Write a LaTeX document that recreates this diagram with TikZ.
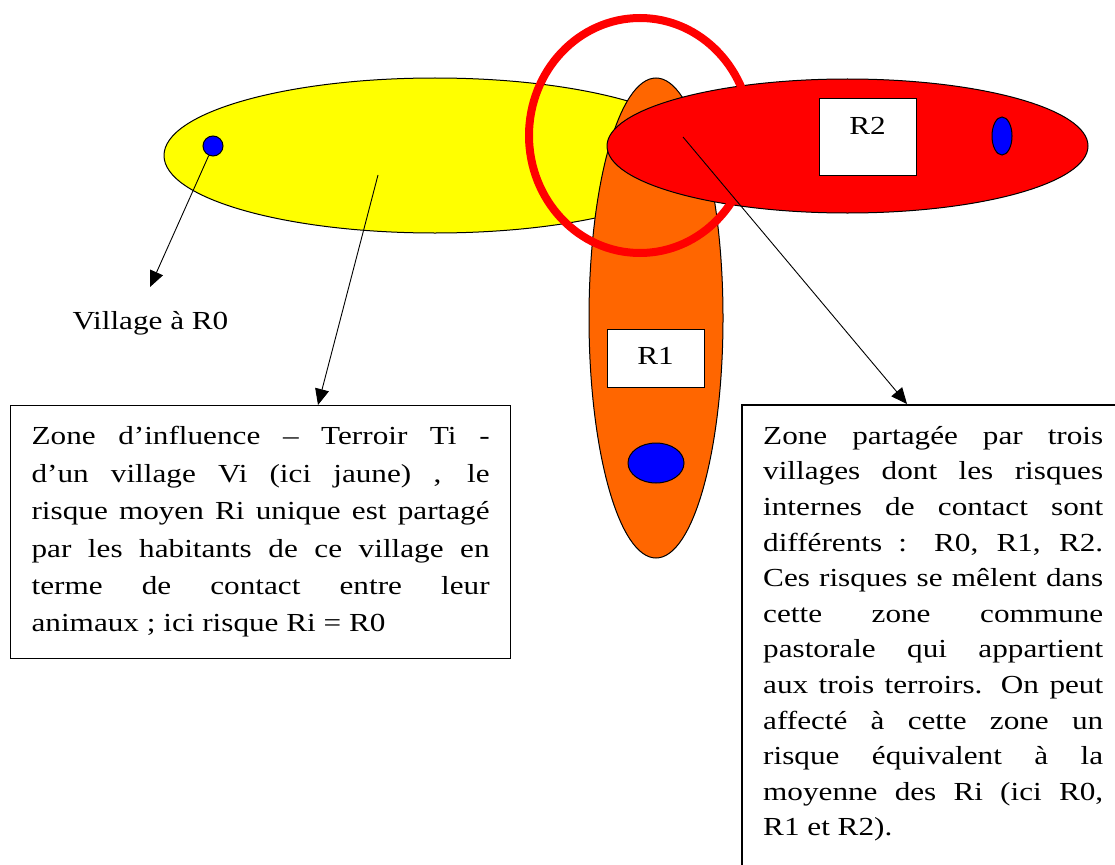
\documentclass[tikz,border=0pt]{standalone}
\usepackage{fontspec}
\setmainfont{Liberation Serif}[FakeStretch=1.2]
\usetikzlibrary{positioning,arrows.meta,shapes.geometric}
\definecolor{myyellow}{RGB}{255,255,0}
\definecolor{myorange}{RGB}{255,102,0}
\definecolor{myred}{RGB}{255,0,0}
\definecolor{myblue}{RGB}{0,0,255}
\tolerance=10000
\hbadness=10000

\begin{document}
\begin{tikzpicture}[x=1pt, y=-1pt, >={Triangle[length=16pt, width=14pt]},
    font=\fontsize{26}{37.4}\selectfont,
    zone/.style={ellipse, draw, line width=1pt, inner sep=0pt},
    village/.style={ellipse, draw, line width=1pt, fill=myblue, inner sep=0pt},
    riskbox/.style={draw, line width=1pt, fill=white, minimum width=97pt, inner sep=0pt},
    notebox/.style={anchor=north west, align=justify, inner xsep=21pt, inner ysep=21pt},
    boxline/.style={line width=1.2pt},
    link/.style={->, line width=0.9pt}]
  \useasboundingbox (0,0) rectangle (1115,864);
  % Terroirs
  \node[zone, fill=myyellow, minimum width=542pt, minimum height=155pt] (T0) at (435,155.5) {};
  \node[zone, fill=myorange, minimum width=134pt, minimum height=480pt] (T1) at (656,318) {};
  \node[zone, fill=myred, minimum width=481pt, minimum height=134pt] (T2) at (847.5,146) {};
  % Shared zone
  \node[ellipse, draw=myred, line width=8pt, minimum width=222pt, minimum height=235pt] (Tc) at (640,135.5) {};
  % Villages
  \node[village, minimum width=20pt, minimum height=20pt] (V0) at (213,146) {};
  \node[village, minimum width=56pt, minimum height=40pt] (V1) at (656,463) {};
  \node[village, minimum width=20pt, minimum height=38pt] (V2) at (1002,136) {};
  % Risk labels
  \node[riskbox, text height=35pt, text depth=23pt] (R1) at (655.5,358) {R1};
  \node[riskbox, text height=35pt, text depth=41pt] (R2) at (867.5,137) {R2};
  % Notes
  \node[anchor=base west] (L0) at (69,329) {Village à R0};
  \node[notebox, boxline, draw, text width=458pt] (N0) at (10,405) {\noindent
    Zone d’influence – Terroir Ti -\linebreak
    d’un village Vi (ici jaune) , le\linebreak
    risque moyen Ri unique est partagé\linebreak
    par les habitants de ce village en\linebreak
    terme de contact entre leur\linebreak
    animaux ; ici risque Ri = R0};
  \node[notebox, text width=340pt, font=\fontsize{26}{35.6}\selectfont] (Nc) at (742,405) {\noindent
    Zone partagée par trois\linebreak
    villages dont les risques\linebreak
    internes de contact sont\linebreak
    différents : R0, R1, R2.\linebreak
    Ces risques se mêlent dans\linebreak
    cette zone commune\linebreak
    pastorale qui appartient\linebreak
    aux trois terroirs. On peut\linebreak
    affecté à cette zone un\linebreak
    risque équivalent à la\linebreak
    moyenne des Ri (ici R0,\linebreak
    R1 et R2).};
  \draw[boxline] ([xshift=40pt]Nc.north east) -| ([yshift=-40pt]Nc.south west);
  % Arrows
  \coordinate (L0tip) at (150,287);
  \coordinate (T0src) at (378,175);
  \coordinate (N0tip) at (318,405);
  \coordinate (T2src) at (683,137);
  \coordinate (Nctip) at (907,404);
  \draw[link] (V0) -- (L0tip);
  \draw[link] (T0src) -- (N0tip);
  \draw[link] (T2src) -- (Nctip);
\end{tikzpicture}
\end{document}
